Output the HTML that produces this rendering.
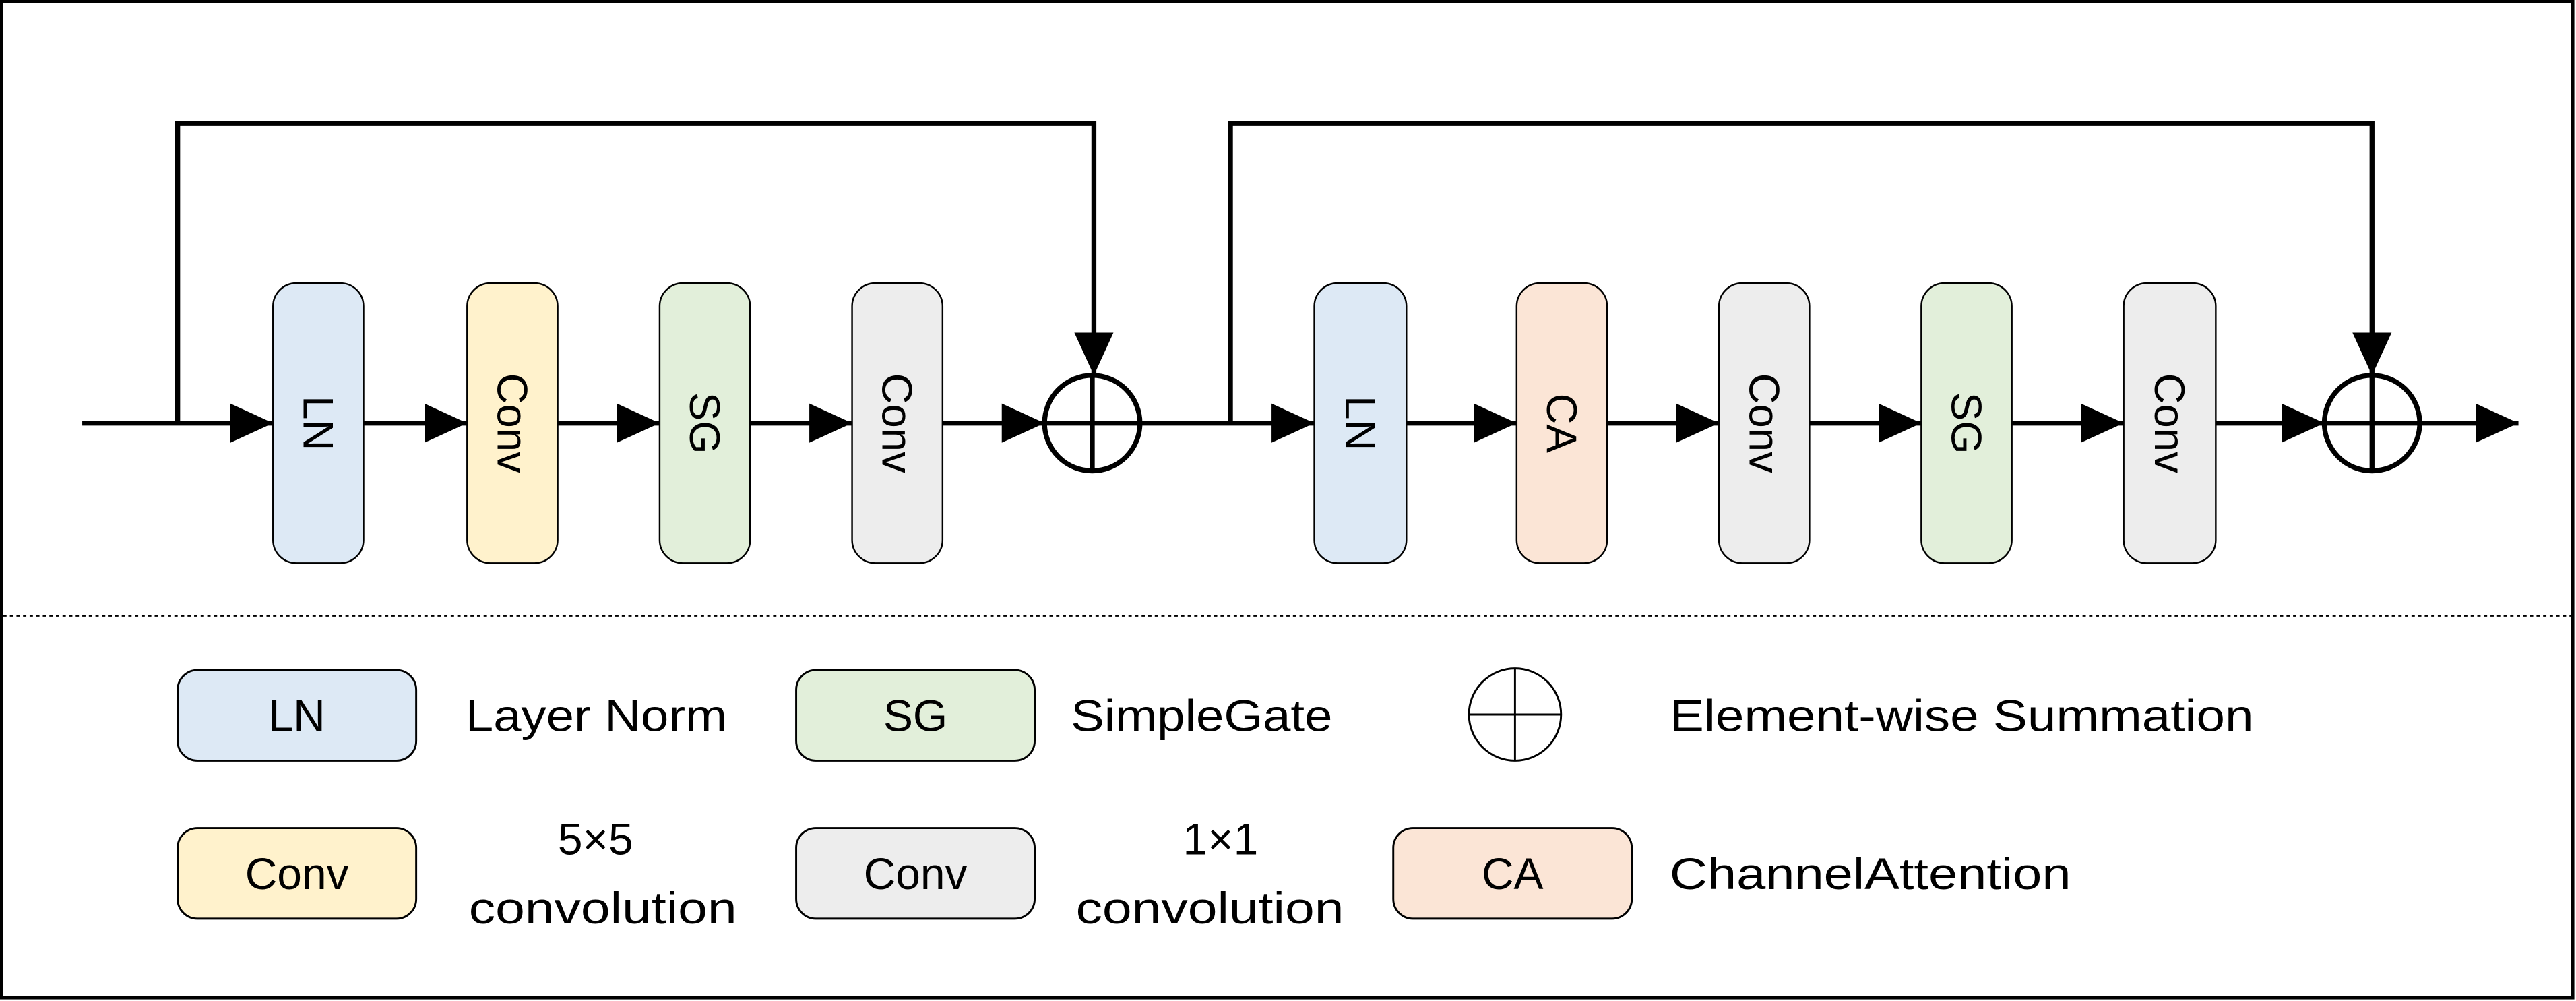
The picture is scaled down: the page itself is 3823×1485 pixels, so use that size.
<!DOCTYPE html>
<html><head><meta charset="utf-8"><style>
html,body{margin:0;padding:0;background:#fff;}
svg{display:block;}
text{font-family:"Liberation Sans",sans-serif;fill:#000;}
</style></head><body>
<svg width="3823" height="1485" viewBox="0 0 1566 608" preserveAspectRatio="none" xmlns="http://www.w3.org/2000/svg">
<defs>
<marker id="ah" markerUnits="userSpaceOnUse" markerWidth="26" markerHeight="26" viewBox="0 0 24 24" refX="24" refY="12" orient="auto">
<path d="M0,1 L24,12 L0,23 Z" fill="#000"/>
</marker>
</defs>
<rect x="1" y="1" width="1563" height="605" fill="#fff" stroke="#000" stroke-width="2"/>
<line x1="2" y1="374" x2="1563" y2="374" stroke="#000" stroke-width="1.2" stroke-dasharray="2,2"/>
<g stroke="#000" stroke-width="3" fill="none">
<polyline points="108,257 108,75 665,75 665,228" marker-end="url(#ah)"/>
<polyline points="748,257 748,75 1442,75 1442,228" marker-end="url(#ah)"/>
<line x1="50" y1="257" x2="166" y2="257" marker-end="url(#ah)"/>
<line x1="221" y1="257" x2="284" y2="257" marker-end="url(#ah)"/>
<line x1="339" y1="257" x2="401" y2="257" marker-end="url(#ah)"/>
<line x1="456" y1="257" x2="518" y2="257" marker-end="url(#ah)"/>
<line x1="573" y1="257" x2="635" y2="257" marker-end="url(#ah)"/>
<line x1="693" y1="257" x2="799" y2="257" marker-end="url(#ah)"/>
<line x1="855" y1="257" x2="922" y2="257" marker-end="url(#ah)"/>
<line x1="977" y1="257" x2="1045" y2="257" marker-end="url(#ah)"/>
<line x1="1100" y1="257" x2="1168" y2="257" marker-end="url(#ah)"/>
<line x1="1223" y1="257" x2="1291" y2="257" marker-end="url(#ah)"/>
<line x1="1347" y1="257" x2="1413" y2="257" marker-end="url(#ah)"/>
<line x1="1471" y1="257" x2="1531" y2="257" marker-end="url(#ah)"/>
<ellipse cx="664" cy="257" rx="29" ry="29"/>
<line x1="664" y1="228" x2="664" y2="286"/><line x1="635" y1="257" x2="693" y2="257"/>
<ellipse cx="1442" cy="257" rx="29" ry="29"/>
<line x1="1442" y1="228" x2="1442" y2="286"/><line x1="1413" y1="257" x2="1471" y2="257"/>
</g>
<g stroke="#000" stroke-width="1">
<rect x="166" y="172" width="55" height="170" rx="14" fill="#dde9f5"/>
<rect x="284" y="172" width="55" height="170" rx="14" fill="#fff2cc"/>
<rect x="401" y="172" width="55" height="170" rx="14" fill="#e2efda"/>
<rect x="518" y="172" width="55" height="170" rx="14" fill="#ededed"/>
<rect x="799" y="172" width="56" height="170" rx="14" fill="#dde9f5"/>
<rect x="922" y="172" width="55" height="170" rx="14" fill="#fbe5d6"/>
<rect x="1045" y="172" width="55" height="170" rx="14" fill="#ededed"/>
<rect x="1168" y="172" width="55" height="170" rx="14" fill="#e2efda"/>
<rect x="1291" y="172" width="56" height="170" rx="14" fill="#ededed"/>
</g>
<g font-size="26" text-anchor="middle">
<text transform="translate(193.5,257) rotate(90)" dy="9">LN</text>
<text transform="translate(311.5,257) rotate(90)" dy="9">Conv</text>
<text transform="translate(428.5,257) rotate(90)" dy="9">SG</text>
<text transform="translate(545.5,257) rotate(90)" dy="9">Conv</text>
<text transform="translate(827,257) rotate(90)" dy="9">LN</text>
<text transform="translate(949.5,257) rotate(90)" dy="9">CA</text>
<text transform="translate(1072.5,257) rotate(90)" dy="9">Conv</text>
<text transform="translate(1195.5,257) rotate(90)" dy="9">SG</text>
<text transform="translate(1319,257) rotate(90)" dy="9">Conv</text>
</g>
<g stroke="#000" stroke-width="1.2">
<rect x="108" y="407" width="145" height="55" rx="12" fill="#dde9f5"/>
<rect x="484" y="407" width="145" height="55" rx="12" fill="#e2efda"/>
<rect x="108" y="503" width="145" height="55" rx="12" fill="#fff2cc"/>
<rect x="484" y="503" width="145" height="55" rx="12" fill="#ededed"/>
<rect x="847" y="503" width="145" height="55" rx="12" fill="#fbe5d6"/>
<circle cx="921" cy="434" r="28" fill="none"/>
<line x1="921" y1="406" x2="921" y2="462"/><line x1="893" y1="434" x2="949" y2="434"/>
</g>
<g font-size="27">
<text x="180.5" y="444" text-anchor="middle">LN</text>
<text x="556.5" y="444" text-anchor="middle">SG</text>
<text x="180.5" y="540" text-anchor="middle">Conv</text>
<text x="556.5" y="540" text-anchor="middle">Conv</text>
<text x="919.5" y="540" text-anchor="middle">CA</text>
<text x="283" y="444" textLength="159" lengthAdjust="spacingAndGlyphs">Layer Norm</text>
<text x="651" y="444" textLength="159" lengthAdjust="spacingAndGlyphs">SimpleGate</text>
<text x="1015" y="444" textLength="355" lengthAdjust="spacingAndGlyphs">Element-wise Summation</text>
<text x="1015" y="540" textLength="244" lengthAdjust="spacingAndGlyphs">ChannelAttention</text>
<text x="362" y="519" text-anchor="middle">5×5</text>
<text x="285" y="561" textLength="163" lengthAdjust="spacingAndGlyphs">convolution</text>
<text x="742" y="519" text-anchor="middle">1×1</text>
<text x="654" y="561" textLength="163" lengthAdjust="spacingAndGlyphs">convolution</text>
</g>
</svg>
</body></html>
